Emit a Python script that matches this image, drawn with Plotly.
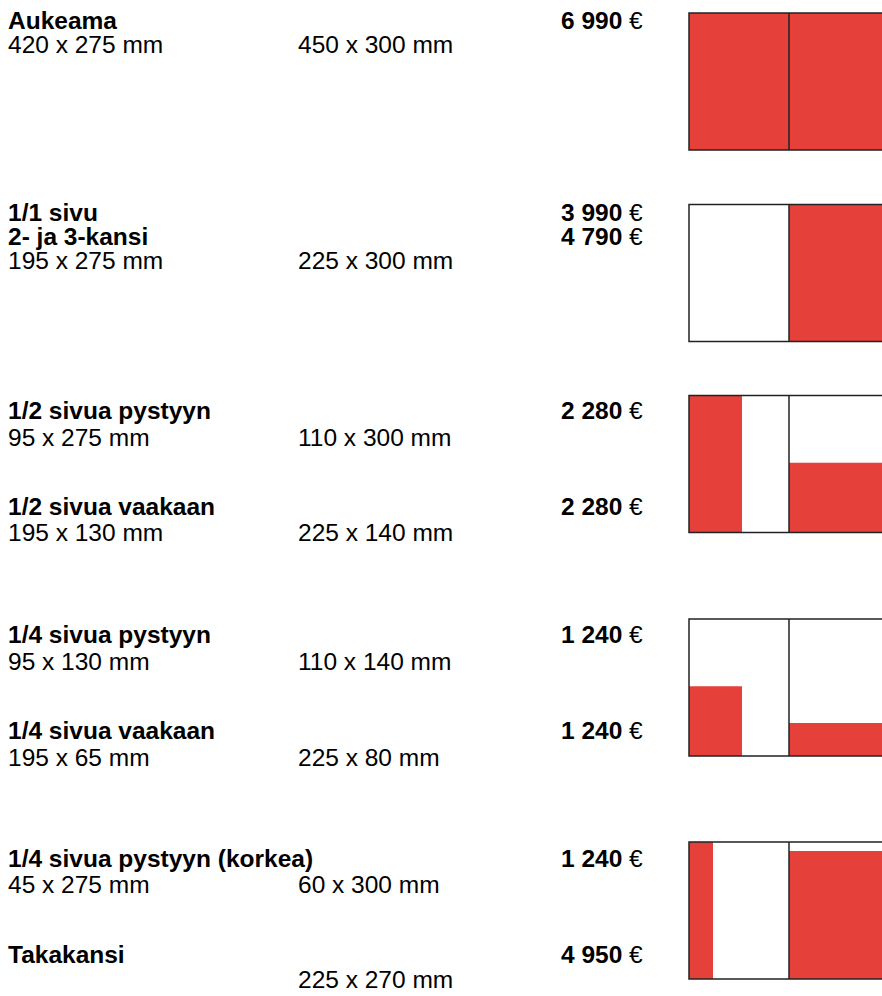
import plotly.graph_objects as go

# ---------------- data ----------------
titles = ["Aukeama", "1/1 sivu", "2- ja 3-kansi", "1/2 sivua pystyyn", "1/2 sivua vaakaan",
          "1/4 sivua pystyyn", "1/4 sivua vaakaan", "1/4 sivua pystyyn (korkea)", "Takakansi"]
prices = ["6 990", "3 990", "4 790", "2 280", "2 280", "1 240", "1 240", "1 240", "4 950"]
net_sizes = ["420 x 275 mm", "", "195 x 275 mm", "95 x 275 mm", "195 x 130 mm",
             "95 x 130 mm", "195 x 65 mm", "45 x 275 mm", ""]
bleed_sizes = ["450 x 300 mm", "", "225 x 300 mm", "110 x 300 mm", "225 x 140 mm",
               "110 x 140 mm", "225 x 80 mm", "60 x 300 mm", "225 x 270 mm"]

# ad areas in the thumbnail spreads, as fractions of a page (x0, x1, y0, y1; y from top)
left_ads = [(0, 1, 0, 1), None, (0, 0.53, 0, 1), (0, 0.53, 0.49, 1), (0, 0.24, 0, 1)]
right_ads = [(0, 1, 0, 1), (0, 1, 0, 1), (0, 1, 0.49, 1), (0, 1, 0.76, 1), (0, 1, 0.066, 1)]

# ---------------- layout ----------------
W, H = 882, 996
RED = "#E5403A"
FONT = "Liberation Sans, Arial, sans-serif"
FS = 24.5

title_y = [20, 212, 236, 410, 506, 634, 730, 858, 954]
size_y = [44, None, 260, 437, 532, 661, 757, 884, 979]
x_left, x_mid, x_price = 8, 296, 645

diag_top = [13, 204.5, 395.5, 619, 842]
page_w, page_h = 100, 137
diag_x0 = 689

fig = go.Figure()
fig.add_trace(go.Scatter(x=[0, W], y=[0, H], mode="markers",
                         marker=dict(opacity=0), hoverinfo="skip", showlegend=False))

ann = []
for i, t in enumerate(titles):
    ann.append(dict(x=x_left, xshift=-2, y=title_y[i], text="<b>%s</b>" % t, xanchor="left", yanchor="middle"))
    ann.append(dict(x=x_price, y=title_y[i], text="<b>%s</b> €" % prices[i], xanchor="right", yanchor="middle"))
    if size_y[i] is not None:
        if net_sizes[i]:
            ann.append(dict(x=x_left, xshift=-2, y=size_y[i], text=net_sizes[i], xanchor="left", yanchor="middle"))
        if bleed_sizes[i]:
            ann.append(dict(x=x_mid, y=size_y[i], text=bleed_sizes[i], xanchor="left", yanchor="middle"))
for a in ann:
    a.update(xref="x", yref="y", showarrow=False, font=dict(family=FONT, size=FS, color="#000"))

shapes = []
for k, top in enumerate(diag_top):
    for p, ads in enumerate((left_ads, right_ads)):
        ad = ads[k]
        px0 = diag_x0 + p * page_w
        if ad is not None:
            shapes.append(dict(type="rect", xref="x", yref="y",
                               x0=px0 + ad[0] * page_w, x1=px0 + ad[1] * page_w,
                               y0=top + ad[2] * page_h, y1=top + ad[3] * page_h,
                               fillcolor=RED, line=dict(width=0)))
    # frame
    shapes.append(dict(type="rect", xref="x", yref="y", x0=diag_x0, x1=diag_x0 + 2 * page_w,
                       y0=top, y1=top + page_h, line=dict(color="#222", width=1.5),
                       fillcolor="rgba(0,0,0,0)"))
    shapes.append(dict(type="line", xref="x", yref="y", x0=diag_x0 + page_w, x1=diag_x0 + page_w,
                       y0=top, y1=top + page_h, line=dict(color="#222", width=1.5)))

fig.update_layout(
    width=W, height=H, margin=dict(l=0, r=0, t=0, b=0),
    paper_bgcolor="white", plot_bgcolor="white",
    xaxis=dict(range=[0, W], visible=False, fixedrange=True),
    yaxis=dict(range=[H, 0], visible=False, fixedrange=True),
    annotations=ann, shapes=shapes, showlegend=False,
)
fig.write_html("out.html", config={"displayModeBar": False},
               post_script="document.body.style.margin='0';document.body.style.overflow='hidden';")
